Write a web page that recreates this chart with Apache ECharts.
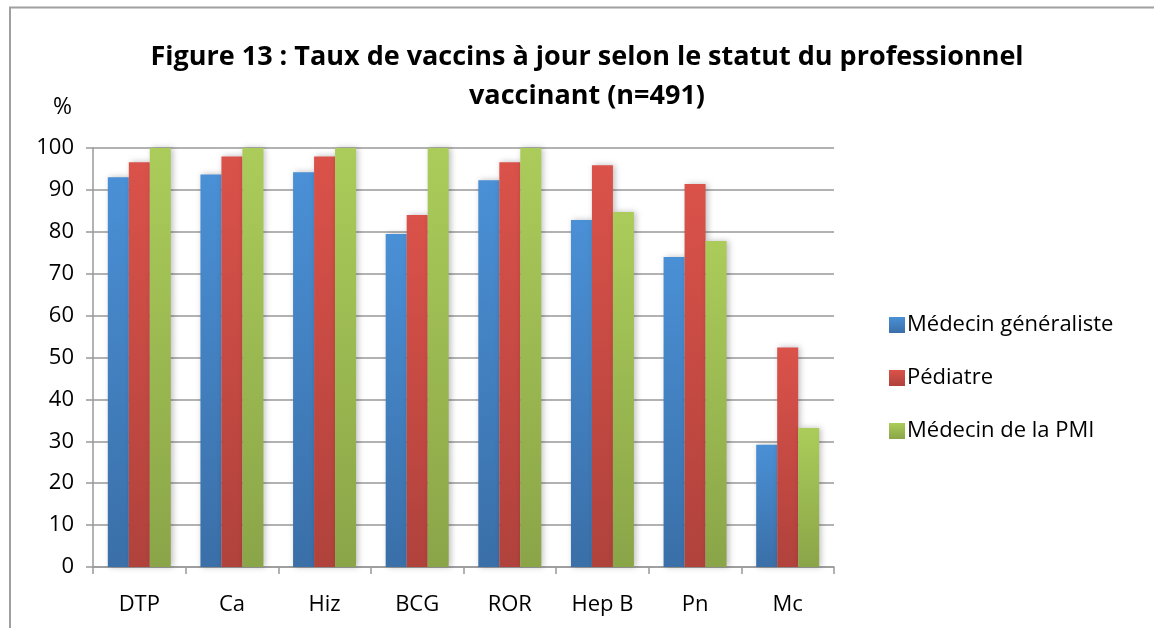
<!DOCTYPE html>
<html>
<head>
    <meta charset="utf-8">
    <title>Figure 13</title>
    <script src="https://cdn.jsdelivr.net/npm/echarts@6/dist/echarts.min.js"></script>
    <style type="text/css">
        html, body { margin: 0; padding: 0; background: #fff; }
        #main { width: 1154px; height: 628px; }
    </style>
</head>
<body>
<div id="main"></div>
<script type="text/javascript">
    // donnees
    var categories = ['DTP', 'Ca', 'Hiz', 'BCG', 'ROR', 'Hep B', 'Pn', 'Mc'];
    var generaliste = [93.0, 93.7, 94.2, 79.5, 92.3, 82.8, 74.0, 29.2];
    var pediatre = [96.6, 98.0, 98.0, 84.0, 96.6, 95.9, 91.4, 52.4];
    var pmi = [100, 100, 100, 100, 100, 84.7, 77.8, 33.2];
    var yTicks = [0, 10, 20, 30, 40, 50, 60, 70, 80, 90, 100];

    var font = 'Open Sans';

    function grad(top, bottom) {
        return new echarts.graphic.LinearGradient(0, 0, 0, 1, [
            {offset: 0, color: top},
            {offset: 1, color: bottom}
        ]);
    }

    function serie(name, data, top, bottom) {
        return {
            name: name,
            type: 'bar',
            data: data,
            barGap: '0%',
            barCategoryGap: '32%',
            itemStyle: {
                color: grad(top, bottom),
                shadowColor: 'rgba(0,0,0,0.25)',
                shadowBlur: 6,
                shadowOffsetX: 2,
                shadowOffsetY: 0
            }
        };
    }

    var chart = echarts.init(document.getElementById('main'));
    chart.setOption({
        animation: false,
        backgroundColor: '#fff',
        title: {
            text: 'Figure 13 : Taux de vaccins à jour selon le statut du professionnel\nvaccinant (n=491)',
            left: 582,
            top: 33,
            textAlign: 'center',
            textStyle: {
                fontFamily: font,
                fontWeight: 'bold',
                fontSize: 27,
                lineHeight: 39,
                color: '#000'
            }
        },
        graphic: [
            {type: 'line', shape: {x1: 9, y1: 7.5, x2: 1154, y2: 7.5}, style: {stroke: '#a0a0a0', lineWidth: 2}},
            {type: 'line', shape: {x1: 10, y1: 7, x2: 10, y2: 628}, style: {stroke: '#a0a0a0', lineWidth: 2}},
            {type: 'text', left: 53, top: 96, style: {text: '%', font: '23px "Open Sans"', fill: '#000'}}
        ],
        legend: {
            orient: 'vertical',
            left: 884,
            top: 308,
            itemWidth: 16,
            itemHeight: 16,
            itemGap: 29,
            icon: 'rect',
            textStyle: {fontFamily: font, fontSize: 22, lineHeight: 24, color: '#000', padding: [0, 0, 0, -3]},
            data: ['Médecin généraliste', 'Pédiatre', 'Médecin de la PMI']
        },
        grid: {left: 93, right: 320, top: 148, bottom: 61},
        xAxis: {
            type: 'category',
            data: categories,
            axisLine: {lineStyle: {color: '#999', width: 1.5}},
            axisTick: {show: true, length: 7, lineStyle: {color: '#999', width: 1.5}},
            axisLabel: {fontFamily: font, fontSize: 22, color: '#000', margin: 27}
        },
        yAxis: {
            type: 'value',
            min: 0,
            max: 100,
            interval: 10,
            axisLine: {show: true, lineStyle: {color: '#999', width: 1.5}},
            axisTick: {show: true, length: 7, lineStyle: {color: '#999', width: 1.5}},
            splitLine: {lineStyle: {color: '#999', width: 1.5}},
            axisLabel: {
                fontFamily: font, fontSize: 22, color: '#000', margin: 19,
                formatter: function (v) { return yTicks.indexOf(v) >= 0 ? String(v) : ''; }
            }
        },
        series: [
            serie('Médecin généraliste', generaliste, '#4a90d6', '#3a6fa8'),
            serie('Pédiatre', pediatre, '#da524a', '#b0423c'),
            serie('Médecin de la PMI', pmi, '#abcc5a', '#8aa548')
        ]
    });
</script>
</body>
</html>
